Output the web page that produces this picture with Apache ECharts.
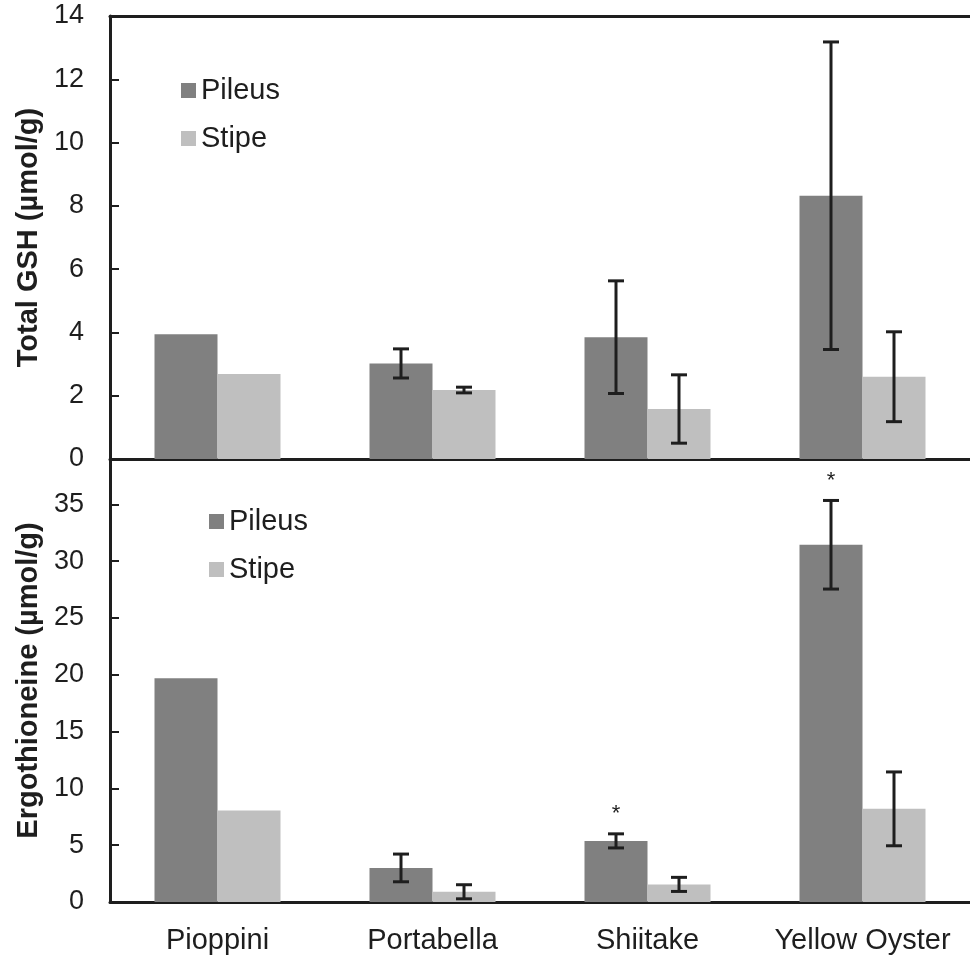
<!DOCTYPE html>
<html>
<head>
<meta charset="utf-8">
<script src="https://cdn.jsdelivr.net/npm/echarts@6/dist/echarts.min.js"></script>
<style>
  html, body { margin: 0; padding: 0; background: #fff; }
  #chart { width: 970px; height: 960px; }
</style>
</head>
<body>
<div id="chart"></div>
<script>
// data (mean, error = +/- half bar length)
const categories = ['Pioppini', 'Portabella', 'Shiitake', 'Yellow Oyster'];

const gshPileus = [3.94, 3.02, 3.85, 8.32];
const gshPileusErr = [null, 0.46, 1.78, 4.86];
const gshStipe = [2.69, 2.18, 1.58, 2.60];
const gshStipeErr = [null, 0.09, 1.08, 1.42];

const ergPileus = [19.7, 3.0, 5.38, 31.45];
const ergPileusErr = [null, 1.22, 0.62, 3.9];
const ergStipe = [8.06, 0.9, 1.55, 8.2];
const ergStipeErr = [null, 0.62, 0.62, 3.25];
const ergPileusSig = ['', '', '*', '*'];

const gshTicks = { min: 0, max: 14, interval: 2 };
const ergTicks = { min: 0, max: 39, interval: 5 };

const PILEUS = '#808080';
const STIPE = '#bfbfbf';
const INK = '#1e1e1e';
const FONT = 'Liberation Sans';
const BAR_W = 63;

function errData(vals, errs) {
  let out = [];
  vals.forEach((v, i) => { if (errs[i] != null) out.push([i, v, errs[i]]); });
  return out;
}

// error bars drawn next to the bar centres (bars are 63px wide, no gap)
function errSeries(grid, vals, errs, offset, sig) {
  return {
    type: 'custom',
    xAxisIndex: grid, yAxisIndex: grid,
    data: errData(vals, errs),
    encode: { x: 0, y: 1 },
    z: 5,
    renderItem: function (params, api) {
      let c = api.value(0), v = api.value(1), e = api.value(2);
      let x = api.coord([c, v])[0] + offset;
      let yt = api.coord([c, v + e])[1];
      let yb = api.coord([c, v - e])[1];
      let st = { stroke: INK, lineWidth: 3 };
      let kids = [
        { type: 'line', shape: { x1: x, y1: yt, x2: x, y2: yb }, style: st },
        { type: 'line', shape: { x1: x - 8, y1: yt, x2: x + 8, y2: yt }, style: st },
        { type: 'line', shape: { x1: x - 8, y1: yb, x2: x + 8, y2: yb }, style: st }
      ];
      if (sig && sig[c]) {
        kids.push({ type: 'text', style: { text: sig[c], x: x, y: yt - 9,
          align: 'center', verticalAlign: 'bottom', font: '22px ' + FONT, fill: INK } });
      }
      return { type: 'group', children: kids };
    }
  };
}

function yAx(grid, t, name) {
  return {
    type: 'value', gridIndex: grid, min: t.min, max: t.max, interval: t.interval,
    name: name, nameLocation: 'middle', nameGap: 62,
    nameTextStyle: { fontFamily: FONT, fontWeight: 'bold', fontSize: 29, color: INK },
    axisLine: { show: true, lineStyle: { color: INK, width: 3 } },
    axisTick: { show: true, inside: true, length: 9, lineStyle: { color: INK, width: 2 } },
    axisLabel: { margin: 26, fontFamily: FONT, fontSize: 27, color: INK, showMaxLabel: t.max % t.interval === 0 },
    splitLine: { show: false }
  };
}

function xAx(grid, pos, labels) {
  return {
    type: 'category', gridIndex: grid, data: categories, position: pos,
    axisLine: { show: true, onZero: false, lineStyle: { color: INK, width: 3 } },
    axisTick: { show: false },
    axisLabel: { show: labels, interval: 0, hideOverlap: false, margin: 24,
      fontFamily: FONT, fontSize: 29, color: INK },
    splitLine: { show: false }
  };
}

function legend(left, top, grid) {
  return {
    orient: 'vertical', left: left, top: top, icon: 'rect',
    itemWidth: 15, itemHeight: 15, itemGap: 19,
    data: ['Pileus', 'Stipe'].map(n => ({ name: n + grid })),
    formatter: n => n.replace(/\d$/, ''),
    textStyle: { fontFamily: FONT, fontSize: 29, color: INK }
  };
}

function bars(name, grid, vals, color) {
  return {
    name: name, type: 'bar', xAxisIndex: grid, yAxisIndex: grid,
    data: vals, barWidth: BAR_W, barGap: '0%',
    itemStyle: { color: color }
  };
}

const chart = echarts.init(document.getElementById('chart'), null, { renderer: 'canvas' });
chart.setOption({
  animation: false,
  backgroundColor: '#fff',
  grid: [
    { left: 110, top: 16, width: 872, height: 443 },
    { left: 110, top: 459, width: 872, height: 443 }
  ],
  legend: [legend(176, 71, 0), legend(204, 502, 1)],
  xAxis: [xAx(0, 'bottom', false), xAx(1, 'bottom', true), xAx(0, 'top', false)],
  yAxis: [yAx(0, gshTicks, 'Total GSH (µmol/g)'), yAx(1, ergTicks, 'Ergothioneine (µmol/g)')],
  series: [
    bars('Pileus0', 0, gshPileus, PILEUS),
    bars('Stipe0', 0, gshStipe, STIPE),
    bars('Pileus1', 1, ergPileus, PILEUS),
    bars('Stipe1', 1, ergStipe, STIPE),
    errSeries(0, gshPileus, gshPileusErr, -BAR_W / 2),
    errSeries(0, gshStipe, gshStipeErr, BAR_W / 2),
    errSeries(1, ergPileus, ergPileusErr, -BAR_W / 2, ergPileusSig),
    errSeries(1, ergStipe, ergStipeErr, BAR_W / 2)
  ]
});
</script>
</body>
</html>
